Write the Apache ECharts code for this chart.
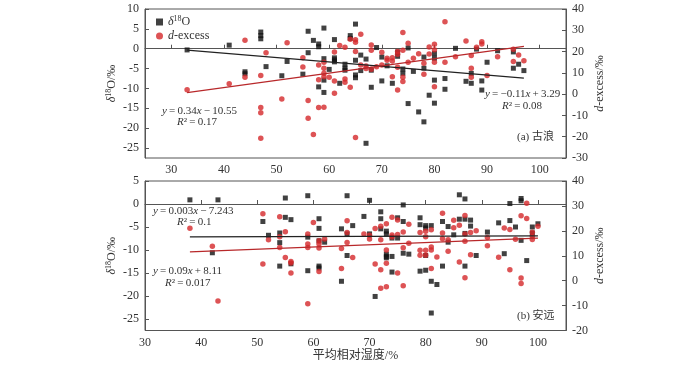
<!DOCTYPE html>
<html><head><meta charset="utf-8">
<script src="https://cdn.jsdelivr.net/npm/echarts@6/dist/echarts.min.js"></script>
<style>html,body{margin:0;padding:0;background:#fff}#c{width:700px;height:366px}</style>
</head><body><div id="c"></div>
<script>
// ---- tick labels ----
const xTicks = [30,40,50,60,70,80,90,100];
const yTicksTopLeft = [-25,-20,-15,-10,-5,0,5,10];
const yTicksBotLeft = [-25,-20,-15,-10,-5,0,5];

// ---- (a) 古浪 ----
const gulangO18 = [[33,-0.3],[41,0.9],[44,-5.8],[44,-6.3],[47,4.2],[47,3.3],[47,2.5],[48,-4.5],[51,-6.8],[52,-3.2],[55,-6.4],[56,4.4],[56,-1.0],[57,2.1],[58,1.2],[58,0.5],[58,-9.6],[59,5.2],[59,-2.5],[59,-7.9],[59,-11.0],[60,-5.2],[61,2.3],[61,-2.3],[61,-2.8],[61,-3.3],[62,-8.7],[63,-3.9],[63,-4.9],[63,-5.4],[64,3.3],[64,2.6],[65,6.2],[65,-2.9],[65,-6.6],[65,-7.3],[66,-1.6],[66,-5.5],[67,-2.6],[67,-23.8],[68,-5.4],[68,-9.7],[69,0.3],[70,-2.1],[70,-8.1],[71,-4.3],[72,-8.7],[73,-0.8],[73,-1.9],[74,-5.1],[74,-6.2],[75,0.2],[75,-13.8],[76,-5.7],[77,-15.9],[78,-2.1],[78,-4.9],[78,-18.4],[79,-11.7],[80,-1.2],[80,-2.4],[80,-7.9],[80,-13.7],[82,-7.5],[82,-10.2],[84,0.1],[86,-8.2],[87,-6.2],[87,-8.7],[88,-0.1],[89,-8.1],[89,-10.4],[90,-3.4],[92,-0.5],[95,-0.8],[95,-4.9],[96,-3.9],[97,-5.5]];
const gulangDex = [[33,2.1],[41,4.9],[44,25.3],[44,7.9],[47,8.7],[47,-6.3],[47,-8.7],[47,-20.7],[48,19.5],[51,-2.3],[52,24.2],[55,17.1],[55,12.8],[56,-3.0],[56,-11.3],[57,-19.0],[58,13.7],[58,6.8],[58,-6.3],[59,15],[59,12.2],[59,9.8],[59,8.2],[59,-6.2],[60,7.9],[61,19.8],[61,6.2],[61,0.4],[62,22.8],[63,22],[63,7.1],[63,5.6],[64,25.8],[64,3.2],[65,25.6],[65,24.4],[65,20],[65,-20.4],[66,28.1],[66,13.7],[67,13.2],[67,12.0],[68,23.1],[68,20.6],[68,11.7],[69,12.9],[70,19.7],[70,13.7],[71,16.9],[71,15.9],[72,17.1],[72,15.6],[72,8.2],[73,20],[73,18.8],[73,12.6],[73,2.0],[74,29],[74,20.6],[74,7.9],[74,5.9],[75,23.9],[75,15],[76,16.9],[77,19.0],[78,14.5],[78,9.3],[79,22.2],[79,18.9],[80,23.4],[80,20.8],[80,15.0],[80,3.5],[82,34],[82,15.0],[84,17.6],[86,25],[87,18.1],[87,12.2],[87,7.9],[88,22],[89,24.6],[89,23.6],[90,8.7],[92,17.6],[95,21.1],[95,15.3],[96,18.4],[97,15.7]];
const gulangFitO18 = [-0.11, 3.29];   // slope, intercept
const gulangFitDex = [0.34, -10.55];
const gulangFitRange = [33, 97];

// ---- (b) 安远 ----
const anyuanO18 = [[38,0.9],[42,-10.6],[43,0.9],[51,-3.8],[52,-6.8],[54,-6.3],[54,-8.4],[54,-13.5],[55,1.3],[55,-2.9],[56,-3.4],[56,-13.0],[59,1.8],[59,-7.2],[59,-14.5],[61,-3.2],[61,-5.3],[61,-8.0],[61,-13.5],[61,-13.9],[62,-8.3],[65,-5.4],[65,-16.8],[66,1.8],[66,-6.5],[66,-11.2],[67,-4.7],[69,-2.7],[70,0.8],[70,-6.5],[71,-20.1],[72,-1.7],[72,-3.2],[72,-5.4],[73,-5.9],[73,-6.5],[73,-10.9],[73,-11.4],[73,-11.7],[74,-7.4],[74,-11.4],[74,-14.8],[75,-3.0],[75,-7.4],[76,-0.2],[76,-3.8],[76,-10.7],[77,-10.9],[79,-3.0],[79,-4.5],[79,-14.6],[80,-4.7],[80,-5.2],[80,-11.2],[80,-14.4],[81,-4.7],[81,-16.8],[81,-23.7],[82,-17.5],[83,-3.8],[83,-13.5],[84,-4.9],[84,-8.3],[85,-6.7],[86,2.0],[86,-3.3],[87,1.1],[87,-3.3],[87,-6.4],[87,-13.5],[88,-3.5],[88,-4.8],[89,-11.2],[91,-6.1],[93,-4.1],[94,-10.8],[95,0.1],[95,-3.6],[96,-5.0],[97,1.2],[97,0.7],[97,-7.9],[98,-12.3],[99,-5.0],[99,-6.3],[100,-4.3]];
const anyuanDex = [[38,21.0],[42,13.8],[43,-8.2],[51,26.9],[51,6.7],[52,16.4],[54,25.7],[54,17.6],[54,13.3],[55,19.6],[55,9.3],[56,7.7],[56,7.1],[56,3.1],[59,18.7],[59,14.7],[59,13.3],[59,-9.3],[60,23.3],[61,16.0],[61,14.7],[61,13.1],[61,3.7],[62,16.7],[65,12.9],[65,4.9],[66,24.0],[66,19.3],[66,15.3],[67,9.3],[69,18.7],[70,18.2],[70,16.7],[71,20.9],[71,6.7],[72,21.8],[72,16.4],[72,4.4],[72,-3.0],[73,22.8],[73,12.3],[73,7.0],[73,-2.4],[74,25.5],[74,18.3],[74,17.5],[75,24.3],[75,18.5],[75,3.1],[76,19.5],[76,13.2],[76,-2.0],[77,22.6],[77,15.0],[79,19.3],[79,12.2],[79,10.2],[80,19.8],[80,17.6],[80,12.2],[80,10.2],[81,20.4],[81,13.5],[81,12.3],[81,4.9],[82,9.5],[83,27.1],[83,19.1],[83,16.8],[84,16.4],[84,11.8],[85,24.2],[85,21.2],[86,22.2],[86,7.5],[87,26.2],[87,18.7],[87,15.8],[87,1.2],[88,19.3],[88,10.4],[89,20.0],[91,17.3],[91,14.0],[93,9.4],[94,21.1],[95,20.5],[95,4.4],[96,16.6],[97,26.1],[97,1.1],[97,-1.1],[98,31.1],[98,25.0],[99,19.4],[99,17.7],[99,16.5],[100,21.8]];
const anyuanFitO18 = [0.003, -7.243];
const anyuanFitDex = [0.09, 8.11];
const anyuanFitRange = [38, 100];

const SERIF = '"Liberation Serif","Times New Roman",serif';
const CJK = '"Liberation Serif","Noto Sans CJK SC",serif';
const BLACK = '#111';
const RED = '#d5282a';
const AXIS = '#555';
const TXT = '#333';
const TS = '\u2009';

function fitLine(coef, range){ return range.map(x => [x, coef[0]*x + coef[1]]); }

const chart = echarts.init(document.getElementById('c'), null, {renderer:'canvas'});

const richBase = {
  n:{fontFamily:SERIF,fontSize:12,color:TXT,lineHeight:14},
  i:{fontFamily:SERIF,fontSize:12,color:TXT,fontStyle:'italic',lineHeight:14},
  s:{fontFamily:SERIF,fontSize:8,color:TXT,verticalAlign:'top',lineHeight:8}
};
const AF = 11;
const richAnn = {
  n:{fontFamily:SERIF,fontSize:AF,color:TXT,lineHeight:14},
  i:{fontFamily:SERIF,fontSize:AF,color:TXT,fontStyle:'italic',lineHeight:14},
  c:{fontFamily:CJK,fontSize:AF,color:TXT,lineHeight:14}
};

function xAx(grid, min, withName){
  const a = {
    gridIndex:grid, type:'value', min:min, max:105,
    axisLine:{show:true,lineStyle:{color:AXIS,width:1}},
    axisTick:{show:true,inside:true,length:4,customValues:xTicks,lineStyle:{color:AXIS}},
    axisLabel:{customValues:xTicks,fontFamily:SERIF,fontSize:12,color:TXT,margin:6},
    splitLine:{show:false}
  };
  if (withName){
    a.name='平均相对湿度/%'; a.nameLocation='middle'; a.nameGap=19; a.nameMoveOverlap=false;
    a.nameTextStyle={fontFamily:CJK,fontSize:12,color:TXT};
  }
  return a;
}
function yLeft(grid, min, max, ticks){
  return {
    gridIndex:grid, type:'value', position:'left', min:min, max:max,
    axisLine:{show:true,lineStyle:{color:AXIS}},
    axisTick:{show:true,inside:true,length:4,customValues:ticks,lineStyle:{color:AXIS}},
    axisLabel:{customValues:ticks,fontFamily:SERIF,fontSize:12,color:TXT,margin:6},
    splitLine:{show:false},
    name:'{i|δ}{s|18}{n|O/‰}', nameLocation:'middle', nameRotate:90, nameGap:26, nameMoveOverlap:false,
    nameTextStyle:{rich:richBase}
  };
}
function yRight(grid, min, max){
  return {
    gridIndex:grid, type:'value', position:'right', min:min, max:max, interval:10,
    axisLine:{show:true,lineStyle:{color:AXIS}},
    axisTick:{show:true,inside:true,length:4,lineStyle:{color:AXIS}},
    axisLabel:{fontFamily:SERIF,fontSize:12,color:TXT,margin:6},
    splitLine:{show:false},
    name:'{i|d}{n|-excess/‰}', nameLocation:'middle', nameRotate:90, nameGap:27, nameMoveOverlap:false,
    nameTextStyle:{rich:richBase}
  };
}
function scat(name, data, xi, yi, sym, color){
  return {name:name, type:'scatter', xAxisIndex:xi, yAxisIndex:yi, data:data,
    symbol:sym, symbolSize: sym==='rect'?5:5.5, itemStyle:{color:color}, silent:true};
}
function line(data, xi, yi, color){
  return {type:'line', xAxisIndex:xi, yAxisIndex:yi, data:data, symbol:'none',
    lineStyle:{color:color,width:1.2}, silent:true, z:5};
}
function txt(x, y, text){
  return {type:'text', x:x, y:y, z:100,
    style:{text:text, rich:richAnn, verticalAlign:'middle', font:AF+'px '+SERIF, fill:TXT}};
}

chart.setOption({
  animation:false,
  backgroundColor:'#fff',
  grid:[
    {left:145, top:9, width:421, height:149, show:true, borderColor:AXIS, borderWidth:1},
    {left:145, top:181, width:421, height:149.5, show:true, borderColor:AXIS, borderWidth:1}
  ],
  legend:{
    data:['δ18O','d-excess'], orient:'vertical', left:151, top:10, itemGap:2,
    itemWidth:7, itemHeight:7,
    formatter: n => n==='δ18O' ? '{i|δ}{s|18}{n|O}' : '{i|d}{n|-excess}',
    textStyle:{rich:richBase}
  },
  xAxis:[xAx(0,25,false), xAx(1,30,true)],
  yAxis:[yLeft(0,-27.5,10,yTicksTopLeft), yRight(0,-30,40), yLeft(1,-27.5,5,yTicksBotLeft), yRight(1,-20,40)],
  series:[
    scat('δ18O', gulangO18, 0, 0, 'rect', BLACK),
    scat('d-excess', gulangDex, 0, 1, 'circle', RED),
    line(fitLine(gulangFitO18, gulangFitRange), 0, 0, '#222'),
    line(fitLine(gulangFitDex, gulangFitRange), 0, 1, '#b8282a'),
    scat('δ18O', anyuanO18, 1, 2, 'rect', BLACK),
    scat('d-excess', anyuanDex, 1, 3, 'circle', RED),
    line(fitLine(anyuanFitO18, anyuanFitRange), 1, 2, '#222'),
    line(fitLine(anyuanFitDex, anyuanFitRange), 1, 3, '#b8282a')
  ],
  graphic:[
    txt(162, 111, `{i|y}{n|${TS}=${TS}0.34}{i|x}{n|${TS}−${TS}10.55}`),
    txt(177, 122, `{i|R}{n|²${TS}=${TS}0.17}`),
    txt(485, 94, `{i|y}{n|${TS}=${TS}−0.11}{i|x}{n|${TS}+${TS}3.29}`),
    txt(502, 106, `{i|R}{n|²${TS}=${TS}0.08}`),
    txt(517, 137, '{n|(a) }{c|古浪}'),
    txt(153, 211, `{i|y}{n|${TS}=${TS}0.003}{i|x}{n|${TS}−${TS}7.243}`),
    txt(177, 222, `{i|R}{n|²${TS}=${TS}0.1}`),
    txt(153, 271, `{i|y}{n|${TS}=${TS}0.09}{i|x}{n|${TS}+${TS}8.11}`),
    txt(165, 283, `{i|R}{n|²${TS}=${TS}0.017}`),
    txt(517, 316, '{n|(b) }{c|安远}')
  ]
});
</script></body></html>
